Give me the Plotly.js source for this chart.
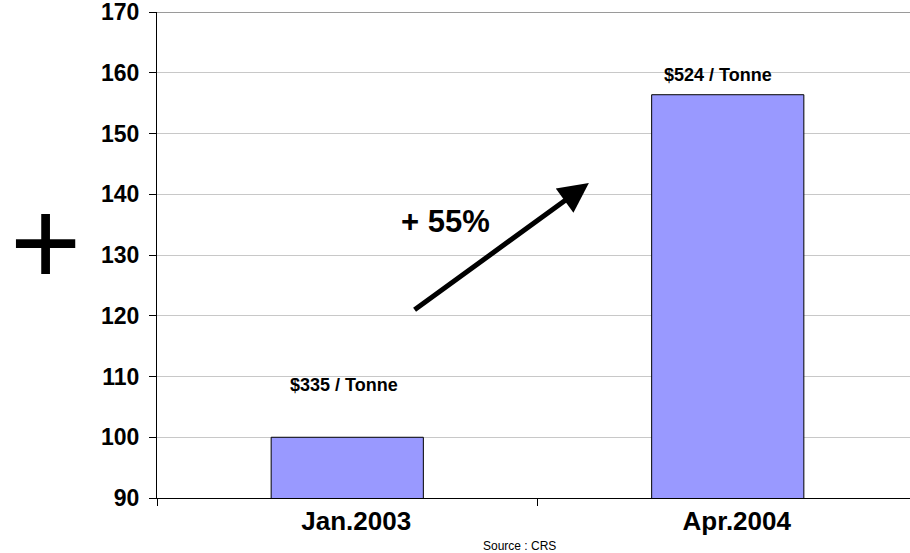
<!DOCTYPE html>
<html>
<head>
<meta charset="utf-8">
<script src="https://cdn.plot.ly/plotly-3.0.1.min.js"></script>
<style>
html,body{margin:0;padding:0;overflow:hidden;background:#fff;}
#chart{width:920px;height:573px;position:relative;top:-20px;}
</style>
</head>
<body>
<div id="chart"></div>
<script>
const categories = ["Jan.2003", "Apr.2004"];
const indexValues = [100, 156.4];
const pricesPerTonne = [335, 524];
const changeLabel = "+ 55%";
const sourceText = "Source : CRS";
const yTicks = [90, 100, 110, 120, 130, 140, 150, 160, 170];

const FONT = "Liberation Sans, Arial, Helvetica, sans-serif";

const trace = {
  type: "bar",
  x: categories,
  y: indexValues,
  width: 0.4,
  marker: {color: "#9999ff", line: {color: "#000000", width: 1}},
  hoverinfo: "skip"
};

const labelOffsets = [{y: 8.6, xshift: -3}, {y: 3.2, xshift: -10}];

const annotations = pricesPerTonne.map((p, i) => ({
  x: categories[i], y: indexValues[i] + labelOffsets[i].y, xref: "x", yref: "y",
  xshift: labelOffsets[i].xshift,
  text: "$" + p + " / Tonne", showarrow: false,
  font: {family: FONT, size: 18, weight: "bold", color: "#000"}
}));

// growth arrow
annotations.push({
  x: 0.635, y: 141.85, xref: "x", yref: "y",
  ax: 0.173, ay: 120.8, axref: "x", ayref: "y",
  text: "", showarrow: true, arrowhead: 2, arrowsize: 1.2, arrowwidth: 5,
  arrowcolor: "#000", standoff: 0
});
annotations.push({
  x: 0.257, y: 135.6, xref: "x", yref: "y",
  text: changeLabel, showarrow: false,
  font: {family: FONT, size: 31, weight: "bold", color: "#000"}
});
// big plus sign
annotations.push({
  x: -0.147, y: 0.525, xref: "paper", yref: "paper",
  text: "+", showarrow: false, xanchor: "center", yanchor: "middle",
  font: {family: FONT, size: 122, color: "#000"}
});
// source
annotations.push({
  x: 0.476, y: -0.099, xref: "paper", yref: "paper",
  text: sourceText, showarrow: false, xanchor: "center", yanchor: "middle",
  font: {family: FONT, size: 12, color: "#000"}
});

const layout = {
  width: 920, height: 573,
  margin: {l: 157, r: 2, t: 32, b: 55, pad: 0},
  paper_bgcolor: "#ffffff", plot_bgcolor: "#ffffff",
  showlegend: false,
  xaxis: {
    type: "category",
    range: [-0.5, 1.5],
    tickson: "boundaries",
    ticks: "outside", ticklen: 7, tickcolor: "#000", tickwidth: 1,
    showline: true, linecolor: "#000", linewidth: 1,
    showgrid: false, zeroline: false,
    ticklabelshift: 9,
    tickfont: {family: FONT, size: 26, weight: "bold", color: "#000"},
    fixedrange: true
  },
  yaxis: {
    range: [90, 170.02],
    tickmode: "array", tickvals: yTicks, ticktext: yTicks.map(String),
    ticks: "outside", ticklen: 7, tickcolor: "#000", tickwidth: 1,
    showline: true, linecolor: "#000", linewidth: 1,
    showgrid: true, gridcolor: "#c8c8c8", gridwidth: 1,
    zeroline: false,
    ticklabelstandoff: 5,
    tickfont: {family: FONT, size: 23, weight: "bold", color: "#000"},
    fixedrange: true
  },
  shapes: [{
    type: "line", xref: "paper", yref: "y", x0: 0, x1: 1, y0: 170, y1: 170,
    line: {color: "#9a9a9a", width: 2}
  }],
  annotations: annotations
};

Plotly.newPlot("chart", [trace], layout, {displayModeBar: false, staticPlot: true});
</script>
</body>
</html>
